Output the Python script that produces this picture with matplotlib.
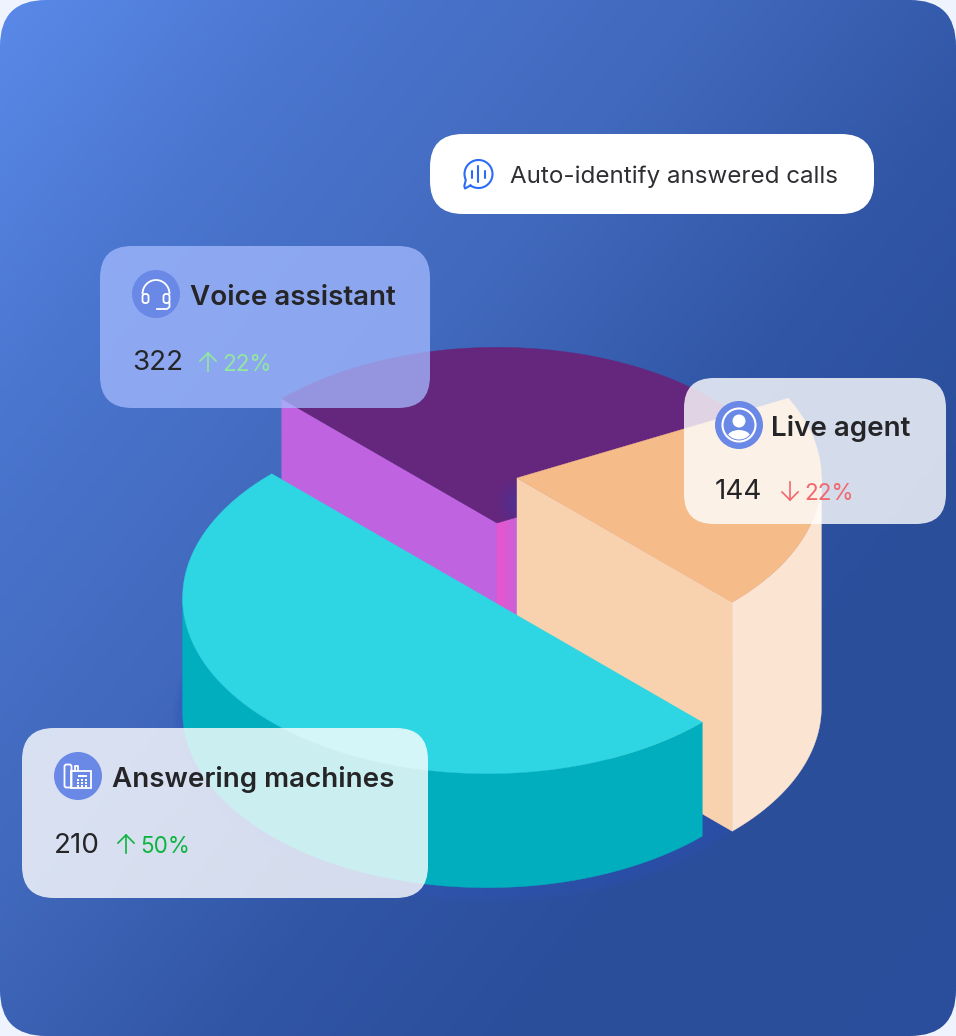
import numpy as np
import matplotlib
matplotlib.use("Agg")
import matplotlib.pyplot as plt
from matplotlib.colors import LinearSegmentedColormap, to_rgb
from matplotlib.patches import Circle, Ellipse, FancyBboxPatch, Polygon, Rectangle, Arc

# Data
slice_names = ["Answering machines", "Voice assistant", "Live agent"]
slice_shares = [50, 30, 20]  # percent of the circle, as drawn
slice_heights = [114, 200, 229]
card_values = [210, 322, 144]
card_changes = [50, 22, 22]
card_up = [True, True, False]
callout = "Auto-identify answered calls"

plt.rcParams["font.family"] = ["Inter", "DejaVu Sans"]

W, H = 956, 1036
fig = plt.figure(figsize=(W / 100, H / 100), dpi=100, facecolor="#EEF3FE")
ax = fig.add_axes([0, 0, 1, 1])
ax.set_xlim(0, W)
ax.set_ylim(H, 0)
ax.axis("off")


def rounded(x, y, w, h, r, **kw):
    p = FancyBboxPatch((x, y), w, h, boxstyle=f"round,pad=0,rounding_size={r}", lw=0, **kw)
    ax.add_patch(p)
    return p


# background gradient
bg_shape = rounded(0, 0, W, H, 46, fc="none")
yy, xx = np.mgrid[0:H:260j, 0:W:240j]
tt = xx + 0.8 * yy
stops = [0, 330, 700, 1045, 1350, 2000]
cols = np.array([to_rgb(c) for c in ["#5A89E9", "#4B76CF", "#4169BD", "#3156A6", "#2A4E9A", "#2B4F9C"]])
img = np.dstack([np.interp(tt, stops, cols[:, i]) for i in range(3)])
im = ax.imshow(img, extent=(0, W, H, 0), aspect="auto", zorder=0)
im.set_clip_path(bg_shape)


# isometric circle
def arc_pts(c, t0, t1, n=120):
    r = 249.4
    t = np.radians(np.linspace(t0, t1, n))
    x = c[0] + r * 0.863 * (np.cos(t) - np.sin(t))
    y = c[1] + r * 0.498 * (np.cos(t) + np.sin(t))
    return np.column_stack([x, y])


def poly(pts, color, z):
    p = Polygon(pts, closed=True, fc=color, ec=color, lw=0.3, zorder=z)
    ax.add_patch(p)
    return p


edges = np.cumsum([0] + slice_shares) * 3.6
c_cyan, c_purple, c_peach = (487, 598), (497, 523), (517, 478)
h_cyan, h_purple, h_peach = slice_heights

# faint blue glow under the pie
for grow in [4, 8, 12, 16, 20]:
    ax.add_patch(Ellipse((487, 716), 608 + grow, 356 + grow, fc="#2F57BC", lw=0, alpha=0.1, zorder=1))

# purple slice
p_start = arc_pts(c_purple, edges[1], edges[1], 1)[0]
p_end = arc_pts(c_purple, edges[2], edges[2], 1)[0]
poly([p_start, c_purple, (c_purple[0], c_purple[1] + h_purple), p_start + (0, h_purple)], "#C063E0", 2)
right_face = poly([c_purple, p_end, p_end + (0, h_purple), (c_purple[0], c_purple[1] + h_purple)], "#C062DE", 2)
pink = LinearSegmentedColormap.from_list("pink", ["#EA55CE", "#C862D8"])
g = ax.imshow(np.linspace(0, 1, 40).reshape(1, -1), extent=(497, 517, 760, 440), cmap=pink, aspect="auto", zorder=2.1)
g.set_clip_path(right_face)
purple_top = poly(np.vstack([[c_purple], arc_pts(c_purple, edges[1], edges[2])]), "#65277D", 3)

# soft shadow thrown on the purple top
yy, xx = np.mgrid[470:530:60j, 480:520:40j]
dist = np.hypot(xx - 518, (yy - 503) * 0.8)
sh = np.zeros(dist.shape + (4,))
sh[..., :3] = to_rgb("#47349F")
sh[..., 3] = np.clip(1 - dist / 22, 0, 1) * 0.7
s = ax.imshow(sh, extent=(480, 520, 530, 470), aspect="auto", zorder=3.1)
s.set_clip_path(purple_top)

# peach slice
a_pt = arc_pts(c_peach, 360, 360, 1)[0]
poly([c_peach, a_pt, a_pt + (0, h_peach), (c_peach[0], c_peach[1] + h_peach)], "#F8D2AE", 4)
top = arc_pts(c_peach, 315, 360)
poly(np.vstack([top, (top + (0, h_peach))[::-1]]), "#FCE4D2", 4)
poly(np.vstack([[c_peach], arc_pts(c_peach, edges[2], edges[3])]), "#F5BC89", 5)

# cyan slice, its wall only runs to the leftmost point of the ellipse
top = arc_pts(c_cyan, edges[0], edges[1])
wall = arc_pts(c_cyan, edges[0], 135)
poly(np.vstack([wall, (wall + (0, h_cyan))[::-1]]), "#00AEBE", 6)
poly(top, "#2ED5E2", 7)

ax.set_xlim(0, W)
ax.set_ylim(H, 0)

# cards
rounded(430, 134, 444, 80, 33, fc="white", zorder=10)
rounded(100, 246, 330, 162, 32, fc="#A5BBFF", alpha=0.75, zorder=10)
rounded(684, 378, 262, 146, 30, fc="white", alpha=0.8, zorder=10)
rounded(22, 728, 406, 170, 32, fc="white", alpha=0.8, zorder=10)

# name text, value text, arrow and change per card
DARK = "#252528"
layout = [
    dict(name=(112, 787), val=(54, 853), arrow=126, ay=(835, 853), pct=(140, 853), col="#0DB43F"),
    dict(name=(190, 305), val=(132, 370), arrow=208, ay=(353, 371), pct=(222, 371), col="#92E89E"),
    dict(name=(771, 436), val=(715, 499), arrow=790, ay=(482, 500), pct=(804, 500), col="#F2666C"),
]
for i, lay in enumerate(layout):
    ax.text(*lay["name"], slice_names[i], fontsize=20, fontweight="semibold", color=DARK, zorder=12)
    ax.text(*lay["val"], str(card_values[i]), fontsize=20, color=DARK, zorder=12)
    ax.text(*lay["pct"], f"{card_changes[i]}%", fontsize=16.2, color=lay["col"], zorder=12)
    x, (y0, y1) = lay["arrow"], lay["ay"]
    tip, tail = (y0, y1) if card_up[i] else (y1, y0)
    d = 8 if card_up[i] else -8
    ax.plot([x, x], [tail, tip], color=lay["col"], lw=1.2, zorder=12)
    ax.plot([x - 8, x, x + 8], [tip + d, tip, tip + d], color=lay["col"], lw=1.2, zorder=12)

ax.text(510, 183, callout, fontsize=17.4, color="#2E2E33", zorder=12)

# icon discs
DISC = "#6A88E5"
for cx, cy in [(78, 776), (156, 294), (739, 425)]:
    ax.add_patch(Circle((cx, cy), 24, fc=DISC, lw=0, zorder=11))

# headset
LW = 1.3
ax.add_patch(Arc((156, 294), 27, 28, theta1=180, theta2=360, ec="white", lw=LW, zorder=12))
rounded(142.5, 294, 6, 9, 2.5, fc="none", ec="white", zorder=12).set(lw=LW)
rounded(163.5, 294, 6, 9, 2.5, fc="none", ec="white", zorder=12).set(lw=LW)
ax.plot([169.5, 169.5, 167, 157], [303, 307, 309, 309], color="white", lw=LW, zorder=12)

# person
ax.add_patch(Circle((739, 425), 16.5, fc="none", ec="white", lw=1.5, zorder=12))
ax.add_patch(Circle((739, 421), 6.5, fc="white", lw=0, zorder=12))
body = Ellipse((739, 437), 23, 14, fc="white", lw=0, zorder=12)
ax.add_patch(body)
body.set_clip_path(Circle((739, 425), 14.5, transform=ax.transData))

# desk phone
rounded(64.5, 764.5, 7, 23, 2, fc="none", ec="white", zorder=12).set(lw=LW)
ax.plot([71.5, 75, 75, 78, 78], [771, 771, 766, 766, 771], color="white", lw=LW, zorder=12)
ax.add_patch(Rectangle((71.5, 771), 20, 17, fc="none", ec="white", lw=LW, zorder=12))
ax.add_patch(Rectangle((78, 775), 9.5, 2, fc="white", lw=0, zorder=12))
for kx in [78.5, 82.5, 86.5]:
    for ky in [780, 783, 786]:
        ax.add_patch(Rectangle((kx - 1, ky - 1), 2, 2, fc="white", lw=0, zorder=12))

# chat bubble
BLUE = "#2B6CF6"
t = np.radians(np.linspace(235, 565, 80))
bx = 478.5 + 14 * np.cos(t)
by = 174 - 14 * np.sin(t)
ax.plot(np.r_[bx, 464.3, 465, bx[0]], np.r_[by, 186, 188.5, by[0]], color=BLUE, lw=1.5, zorder=12)
for bar_x, half in [(472, 3.5), (478.5, 8), (485, 3.5)]:
    ax.plot([bar_x, bar_x], [174 - half, 174 + half], color=BLUE, lw=1.5, zorder=12, solid_capstyle="round")

fig.savefig("out.png", dpi=100, facecolor=fig.get_facecolor())
